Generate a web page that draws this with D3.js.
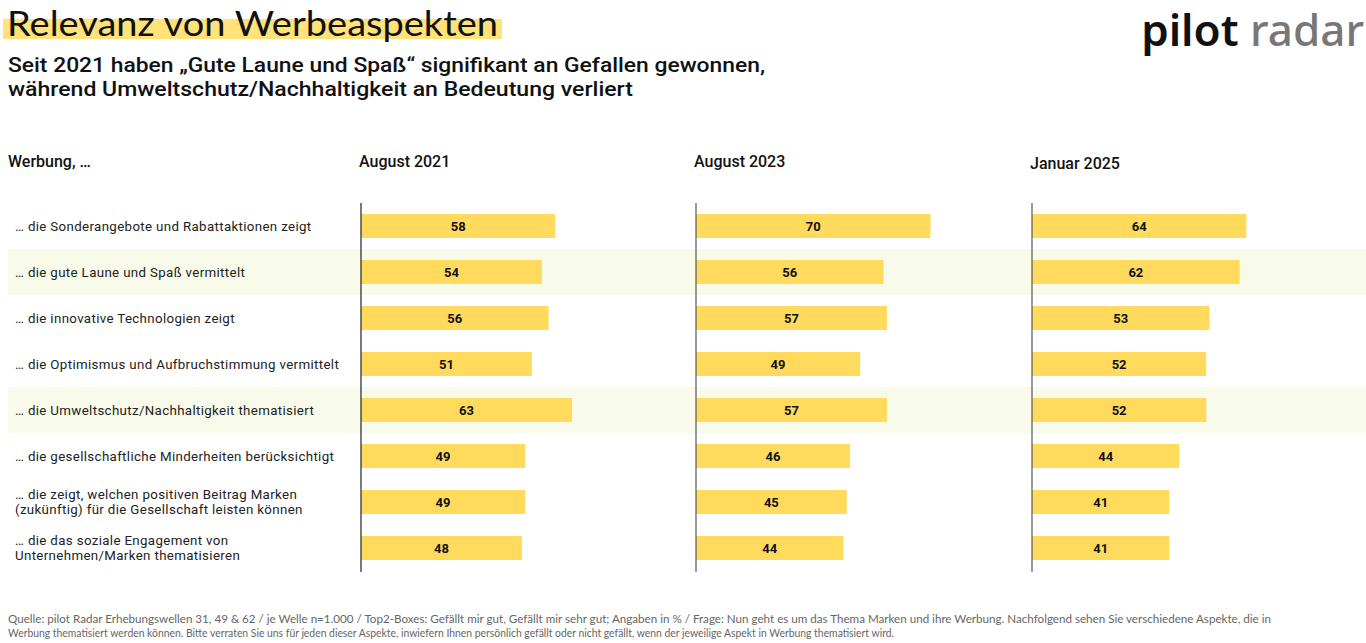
<!DOCTYPE html>
<html><head><meta charset="utf-8">
<script src="https://cdn.jsdelivr.net/npm/d3@7"></script>
<style>
body{margin:0;background:#fff;}
svg{display:block;}
</style></head>
<body>
<svg id="c" width="1366" height="643"></svg>
<script>
const categories = [
  ["… die Sonderangebote und Rabattaktionen zeigt"],
  ["… die gute Laune und Spaß vermittelt"],
  ["… die innovative Technologien zeigt"],
  ["… die Optimismus und Aufbruchstimmung vermittelt"],
  ["… die Umweltschutz/Nachhaltigkeit thematisiert"],
  ["… die gesellschaftliche Minderheiten berücksichtigt"],
  ["… die zeigt, welchen positiven Beitrag Marken", "(zukünftig) für die Gesellschaft leisten können"],
  ["… die das soziale Engagement von", "Unternehmen/Marken thematisieren"]
];
const waves = ["August 2021", "August 2023", "Januar 2025"];
const aug2021 = [58, 54, 56, 51, 63, 49, 49, 48];
const aug2023 = [70, 56, 57, 49, 57, 46, 45, 44];
const jan2025 = [64, 62, 53, 52, 52, 44, 41, 41];
const series = [aug2021, aug2023, jan2025];
const highlighted = [1, 4];

const svg = d3.select("#c");
const font = "Roboto, 'Noto Sans', sans-serif";

// Title with highlight
svg.append("rect").attr("x", 3).attr("y", 19).attr("width", 499).attr("height", 20).attr("fill", "#FFE27A");
svg.append("text").attr("x", 7).attr("y", 36).attr("font-family", "Lato, sans-serif").attr("font-size", 34)
  .attr("fill", "#111").attr("textLength", 491).attr("lengthAdjust", "spacingAndGlyphs")
  .text("Relevanz von Werbeaspekten");
const sub = ["Seit 2021 haben „Gute Laune und Spaß“ signifikant an Gefallen gewonnen,",
  "während Umweltschutz/Nachhaltigkeit an Bedeutung verliert"];
const subLen = [757, 625];
svg.selectAll("text.sub").data(sub).join("text").attr("class", "sub")
  .attr("x", 8).attr("y", (d, i) => 72 + i * 24)
  .attr("font-family", font).attr("font-size", 20).attr("font-weight", 500)
  .attr("fill", "#111").attr("textLength", (d, i) => subLen[i]).attr("lengthAdjust", "spacingAndGlyphs")
  .text(d => d);

// Logo
const logo = svg.append("text").attr("x", 1364).attr("y", 46).attr("text-anchor", "end")
  .attr("font-family", "'Noto Sans', sans-serif").attr("font-size", 44).attr("font-weight", 600);
logo.append("tspan").attr("fill", "#111").text("pilot ");
logo.append("tspan").attr("fill", "#777").attr("font-weight", 500).text("radar");

// Row scale
const y = d3.scaleBand().domain(d3.range(categories.length)).range([203, 571]).paddingInner(0).paddingOuter(0);
const barH = 24;

// Highlight bands
svg.selectAll("rect.band").data(highlighted).join("rect").attr("class", "band")
  .attr("x", 8).attr("width", 1358)
  .attr("y", d => y(d)).attr("height", y.bandwidth())
  .attr("fill", "#F8FBEA");

// Headers
svg.append("text").attr("x", 8).attr("y", 167).attr("font-family", font).attr("font-size", 16).attr("font-weight", 500)
  .attr("fill", "#111").text("Werbung, …");

const colX = [361, 696, 1032];
const headerY = [167, 167, 169];
const x = d3.scaleLinear().domain([0, 100]).range([0, 335]);

// Category labels
const lab = svg.selectAll("text.cat").data(categories).join("text").attr("class", "cat")
  .attr("font-family", font).attr("font-size", 13.3).attr("letter-spacing", 0.35).attr("fill", "#222");
lab.each(function(d, i) {
  const t = d3.select(this);
  const cy = y(i) + y.bandwidth() / 2;
  const n = d.length;
  d.forEach((line, k) => {
    t.append("tspan").attr("x", 15).attr("y", cy + 4.5 + (k - (n - 1) / 2) * 15.8).text(line);
  });
});

waves.forEach((w, j) => {
  const g = svg.append("g").attr("transform", `translate(${colX[j]},0)`);
  g.append("text").attr("x", -2).attr("y", headerY[j]).attr("font-family", font).attr("font-size", 16).attr("font-weight", 500)
    .attr("fill", "#111").text(w);
  g.selectAll("rect.bar").data(series[j]).join("rect").attr("class", "bar")
    .attr("x", 0).attr("y", (d, i) => y(i) + (y.bandwidth() - barH) / 2)
    .attr("width", d => x(d)).attr("height", barH).attr("fill", "#FFDA5C");
  g.selectAll("text.val").data(series[j]).join("text").attr("class", "val")
    .attr("x", d => x(d) / 2).attr("y", (d, i) => y(i) + y.bandwidth() / 2 + 4.5)
    .attr("text-anchor", "middle").attr("font-family", font).attr("font-size", 13).attr("font-weight", 700)
    .attr("fill", "#111").text(d => d);
  g.append("line").attr("x1", 0).attr("x2", 0).attr("y1", 203).attr("y2", 572)
    .attr("stroke", j === 0 ? "#222" : "#555").attr("stroke-width", 1.2);
});

// Footer
const foot = ["Quelle: pilot Radar Erhebungswellen 31, 49 & 62 / je Welle n=1.000 / Top2-Boxes: Gefällt mir gut, Gefällt mir sehr gut; Angaben in % / Frage: Nun geht es um das Thema Marken und ihre Werbung. Nachfolgend sehen Sie verschiedene Aspekte, die in",
  "Werbung thematisiert werden können. Bitte verraten Sie uns für jeden dieser Aspekte, inwiefern Ihnen persönlich gefällt oder nicht gefällt, wenn der jeweilige Aspekt in Werbung thematisiert wird."];
svg.selectAll("text.foot").data(foot).join("text").attr("class", "foot")
  .attr("x", 8).attr("y", (d, i) => 623 + i * 14)
  .attr("font-family", "Lato, 'Liberation Sans Narrow', sans-serif").attr("font-size", 10.5).attr("fill", "#666")
  .attr("textLength", (d, i) => i === 0 ? 1263 : 886).attr("lengthAdjust", "spacingAndGlyphs")
  .text(d => d);
</script>
</body></html>
